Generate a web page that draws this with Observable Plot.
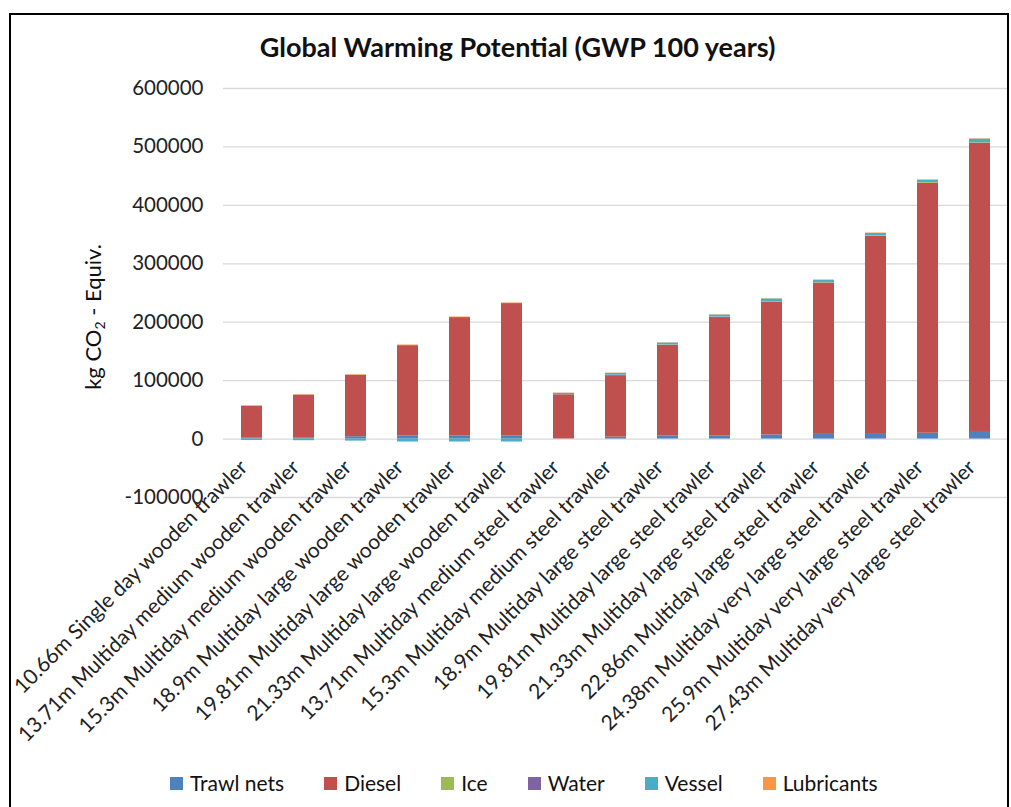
<!DOCTYPE html>
<html><head><meta charset="utf-8">
<script src="https://cdn.jsdelivr.net/npm/d3@7"></script>
<script src="https://cdn.jsdelivr.net/npm/@observablehq/plot@0.6"></script>
<style>
body{margin:0;background:#fff;font-family:Lato,sans-serif;color:#222}
#wrap{position:relative;width:1011px;height:807px;overflow:hidden;background:#fff}
#frame{position:absolute;left:9px;top:13px;width:1000px;height:830px;border:2px solid #000;box-sizing:border-box}
#title{position:absolute;left:12px;width:1011px;top:31px;line-height:32px;text-align:center;font-weight:bold;font-size:27px;color:#111}
#chart{position:absolute;left:0;top:0}
#ylabel{position:absolute;left:92px;top:317px;transform:translate(-50%,-50%) rotate(-90deg);white-space:nowrap;font-size:22px;color:#111}
#ylabel sub{font-size:14px;vertical-align:-4px;line-height:0}
#legend{position:absolute;top:769px;left:170px;display:flex;gap:40px;font-size:21px;line-height:28px;color:#111}
#legend .item{display:flex;align-items:center}
#legend .sw{width:13px;height:13px;margin-right:7px}
</style></head>
<body>
<div id="wrap">
  <div id="frame"></div>
  <div id="chart"></div>
  <div id="title">Global Warming Potential (GWP 100 years)</div>
  <div id="ylabel">kg CO<sub>2</sub> - Equiv.</div>
  <div id="legend"></div>
</div>
<script>
const categories = [
  "10.66m Single day wooden trawler",
  "13.71m Multiday medium wooden trawler",
  "15.3m Multiday medium wooden trawler",
  "18.9m Multiday large wooden trawler",
  "19.81m Multiday large wooden trawler",
  "21.33m Multiday large wooden trawler",
  "13.71m Multiday medium steel trawler",
  "15.3m Multiday medium steel trawler",
  "18.9m Multiday large steel trawler",
  "19.81m Multiday large steel trawler",
  "21.33m Multiday large steel trawler",
  "22.86m Multiday large steel trawler",
  "24.38m Multiday very large steel trawler",
  "25.9m Multiday very large steel trawler",
  "27.43m Multiday very large steel trawler"
];
const seriesNames = ["Trawl nets", "Diesel", "Ice", "Water", "Vessel", "Lubricants"];
const seriesColors = ["#4F81BD", "#C0504D", "#9BBB59", "#8064A2", "#4BACC6", "#F79646"];
const trawlNets  = [1500, 1500, 4000, 5000, 5000, 5000, 300, 3400, 5000, 5000, 7000, 8000, 8000, 10000, 13000];
const diesel     = [54700, 73600, 105100, 154900, 202900, 226900, 75500, 105200, 155400, 203000, 227400, 258900, 339000, 428000, 493000];
const ice        = [0, 0, 0, 0, 0, 0, 300, 500, 600, 700, 800, 800, 1000, 1000, 1000];
const water      = [0, 0, 0, 0, 0, 0, 200, 200, 200, 200, 200, 200, 200, 200, 300];
const vessel     = [-2500, -2800, -3500, -5000, -5000, -5000, 2000, 3200, 3200, 3400, 4400, 3800, 3800, 3800, 6000];
const lubricants = [800, 900, 1000, 1000, 1000, 1000, 500, 500, 500, 500, 500, 600, 700, 700, 700];
const yTicks = [-100000, 0, 100000, 200000, 300000, 400000, 500000, 600000];

const seriesValues = [trawlNets, diesel, ice, water, vessel, lubricants];
const rows = [];
categories.forEach((c, i) => {
  seriesNames.forEach((s, k) => rows.push({category: c, series: s, value: seriesValues[k][i]}));
});

const chart = Plot.plot({
  width: 1011,
  height: 807,
  marginLeft: 223,
  marginRight: 4,
  marginTop: 88,
  marginBottom: 310,
  style: {fontFamily: "Lato, sans-serif", color: "#222", background: "transparent"},
  x: {domain: categories, paddingInner: 0.6, paddingOuter: 0.3, axis: null},
  y: {domain: [-100000, 600000]},
  color: {domain: seriesNames, range: seriesColors},
  marks: [
    Plot.ruleY(yTicks, {stroke: "#d9d9d9", strokeWidth: 1.3}),
    Plot.axisY({ticks: yTicks, tickSize: 0, tickPadding: 20, tickFormat: d => String(d), fontSize: 20.5, label: null}),
    Plot.barY(rows, {x: "category", y: "value", fill: "series", order: seriesNames}),
    Plot.text(categories, {x: d => d, y: () => 0, text: d => d, rotate: -45, textAnchor: "end", lineAnchor: "middle", dx: -8, dy: 25, fontSize: 21, fill: "#222"})
  ]
});
document.getElementById("chart").appendChild(chart);

const legend = document.getElementById("legend");
seriesNames.forEach((s, k) => {
  const it = document.createElement("div");
  it.className = "item";
  const sw = document.createElement("span");
  sw.className = "sw";
  sw.style.background = seriesColors[k];
  const tx = document.createElement("span");
  tx.textContent = s;
  it.appendChild(sw); it.appendChild(tx);
  legend.appendChild(it);
});
</script>
</body></html>
